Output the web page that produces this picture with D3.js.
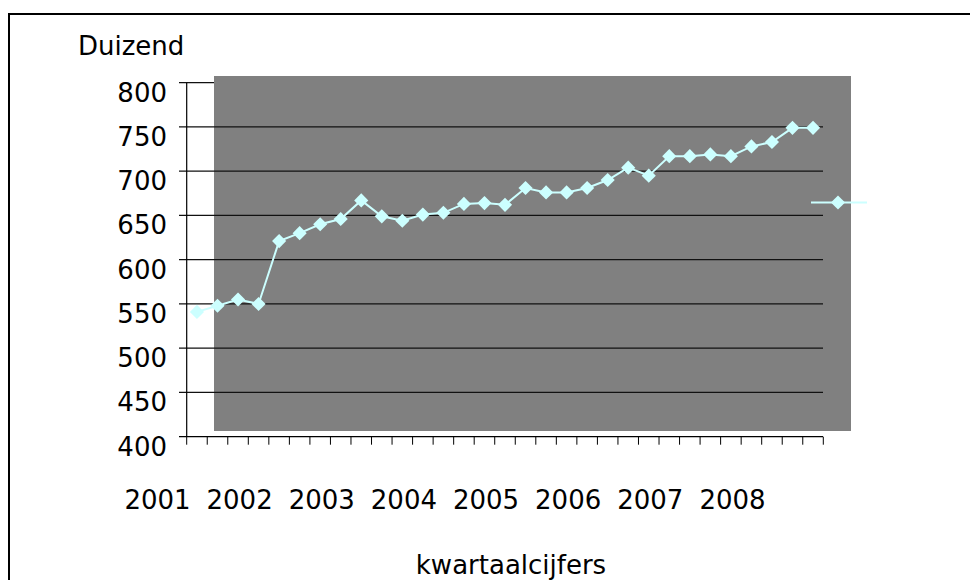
<!DOCTYPE html>
<html>
<head>
<meta charset="utf-8">
<script src="https://cdn.jsdelivr.net/npm/d3@7"></script>
<style>
  body { margin: 0; background: #fff; }
  svg { display: block; }
  text { font-family: "DejaVu Sans", Verdana, sans-serif; font-size: 26px; fill: #000; }
</style>
</head>
<body>
<svg id="chart"></svg>
<script>
// quarterly figures (thousands)
var quarters = [];
[2001, 2002, 2003, 2004, 2005, 2006, 2007, 2008].forEach(function (y) {
  ["Q1", "Q2", "Q3", "Q4"].forEach(function (q) { quarters.push(y + " " + q); });
});
quarters = quarters.slice(0, 31);

var values = [541, 548, 555, 550, 621, 630, 640, 646, 667, 649, 644, 651, 653, 663, 664, 662,
              681, 676, 676, 681, 690, 704, 695, 717, 717, 719, 717, 728, 733, 749, 749];

var yTicks = [400, 450, 500, 550, 600, 650, 700, 750, 800];
var yearLabels = ["2001", "2002", "2003", "2004", "2005", "2006", "2007", "2008"];

var width = 970, height = 580;
var lineColor = "#ccffff";

var svg = d3.select("#chart").attr("width", width).attr("height", height);

// outer frame
svg.append("rect")
  .attr("x", 9).attr("y", 14)
  .attr("width", 1000).attr("height", 600)
  .attr("fill", "#fff").attr("stroke", "#000").attr("stroke-width", 2);

var x = d3.scaleBand().domain(quarters).range([186.7, 823.3]);
var y = d3.scaleLinear().domain([400, 800]).range([436.7, 82.7]);

function drawGrid(ticks) {
  svg.append("g").selectAll("line")
    .data(ticks)
    .enter().append("line")
    .attr("x1", 179).attr("x2", 823)
    .attr("y1", function (d) { return y(d); })
    .attr("y2", function (d) { return y(d); })
    .attr("stroke", "#111").attr("stroke-width", 1.2);
}

// top gridline sits under the plot area
drawGrid([800]);

// plot area
svg.append("rect")
  .attr("x", 214).attr("y", 76)
  .attr("width", 637).attr("height", 355)
  .attr("fill", "#808080");

drawGrid(yTicks.filter(function (d) { return d > 400 && d < 800; }));

// y axis
svg.append("line")
  .attr("x1", 186.7).attr("x2", 186.7)
  .attr("y1", y(800)).attr("y2", y(400))
  .attr("stroke", "#000").attr("stroke-width", 1.2);

svg.append("g").selectAll("line")
  .data([400])
  .enter().append("line")
  .attr("x1", 179).attr("x2", 823)
  .attr("y1", function (d) { return y(d); })
  .attr("y2", function (d) { return y(d); })
  .attr("stroke", "#000").attr("stroke-width", 1.2);

svg.append("g").selectAll("text")
  .data(yTicks)
  .enter().append("text")
  .attr("x", 167)
  .attr("y", function (d) { return y(d) + 19; })
  .attr("text-anchor", "end")
  .text(function (d) { return d; });

// x axis ticks at category boundaries
var bounds = quarters.map(function (q) { return x(q); }).concat([x.range()[1]]);
svg.append("g").selectAll("line")
  .data(bounds)
  .enter().append("line")
  .attr("x1", function (d) { return d; })
  .attr("x2", function (d) { return d; })
  .attr("y1", y(400)).attr("y2", y(400) + 8)
  .attr("stroke", "#000").attr("stroke-width", 1);

// year labels every fourth quarter
svg.append("g").selectAll("text")
  .data(yearLabels)
  .enter().append("text")
  .attr("x", function (d, i) { return x(quarters[i * 4]) + x.bandwidth() / 2 - 39.5; })
  .attr("y", 509)
  .attr("text-anchor", "middle")
  .text(function (d) { return d; });

// series line
var cx = function (d, i) { return x(quarters[i]) + x.bandwidth() / 2; };
svg.append("path")
  .datum(values)
  .attr("fill", "none")
  .attr("stroke", lineColor)
  .attr("stroke-width", 2)
  .attr("d", d3.line().x(cx).y(function (d) { return y(d); }));

var diamond = d3.symbol().type(d3.symbolSquare).size(100);
svg.append("g").selectAll("path")
  .data(values)
  .enter().append("path")
  .attr("d", diamond)
  .attr("fill", lineColor)
  .attr("transform", function (d, i) { return "translate(" + cx(d, i) + "," + y(d) + ") rotate(45)"; });

// legend
svg.append("line")
  .attr("x1", 811).attr("x2", 867)
  .attr("y1", 202.5).attr("y2", 202.5)
  .attr("stroke", lineColor).attr("stroke-width", 2);
svg.append("path")
  .attr("d", diamond)
  .attr("fill", lineColor)
  .attr("transform", "translate(838,202.5) rotate(45)");

// titles
svg.append("text").attr("x", 78).attr("y", 55).text("Duizend");
svg.append("text").attr("x", 511).attr("y", 574).attr("text-anchor", "middle").text("kwartaalcijfers");
</script>
</body>
</html>
